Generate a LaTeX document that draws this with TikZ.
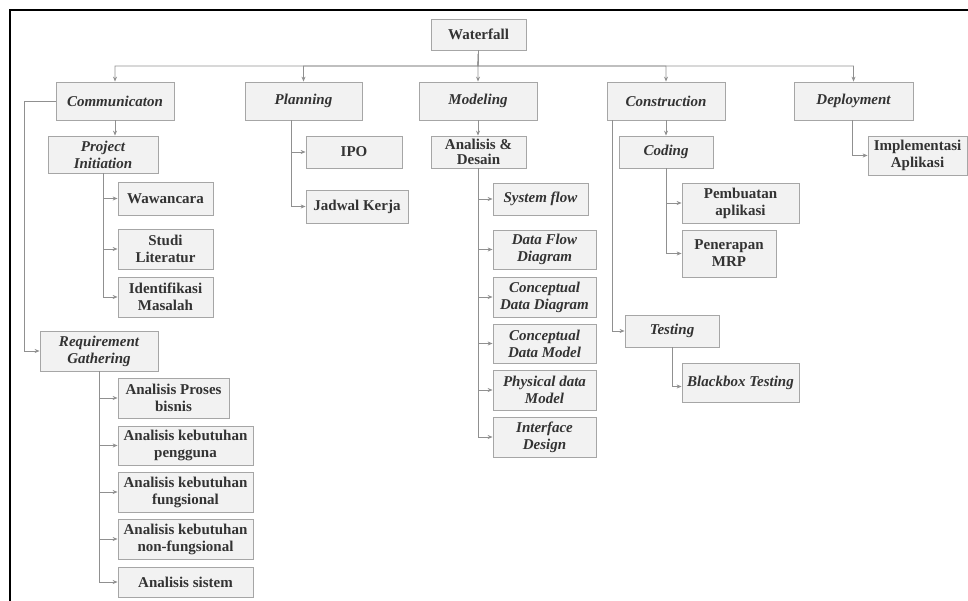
\documentclass[tikz,border=0pt]{standalone}
\usepackage{fontspec}
\setmainfont{Liberation Serif}
\usetikzlibrary{arrows.meta}
\definecolor{boxfill}{HTML}{F2F2F2}
\definecolor{boxline}{HTML}{A6A6A6}
\definecolor{conline}{HTML}{909090}
\definecolor{txt}{HTML}{333333}
\tikzset{
  bx/.style={draw=boxline, fill=boxfill, line width=0.8pt, inner sep=0pt, align=center, text=txt,
             font=\fontsize{15}{17}\selectfont\bfseries},
  bxi/.style={bx, font=\fontsize{15}{17}\selectfont\bfseries\itshape},
  sz/.style 2 args={minimum width=#1pt, minimum height=#2pt},
  conn/.style={draw=conline, line width=0.8pt},
  arr/.style={conn, -{Stealth[length=5pt,width=4pt]}},
}
\begin{document}
\begin{tikzpicture}[x=1pt,y=-1pt]
\useasboundingbox (0,0) rectangle (968,601);
\draw[line width=2pt] (10,601) -- (10,10) -- (968,10);

% top
\node[bx, sz={95}{31}] (wf) at (478.5,34.5) {Waterfall};
\coordinate (b) at (478,66);

% level 1
\node[bxi, sz={118}{38}] (comm) at (115,101) {Communicaton};
\node[bxi, sz={117}{38}] (plan) at (303.5,101) {Planning};
\node[bxi, sz={118}{38}] (model) at (478,101) {Modeling};
\node[bxi, sz={118}{38}] (cons) at (666,101) {Construction};
\node[bxi, sz={119}{38}] (depl) at (853.5,101) {Deployment};

\draw[arr] (wf.south) -- (b) -| (comm.north);
\draw[arr] (wf.south) -- (b) -| (plan.north);
\draw[arr] (wf.south) -- (b) -- (model.north);
\draw[arr] (wf.south) -- (b) -| (cons.north);
\draw[arr] (wf.south) -- (b) -| (depl.north);

% Communication
\node[bxi, sz={110}{37}] (pi) at (103,154.5) {Project\\Initiation};
\node[bx, sz={95}{33}] (waw) at (165.5,198.5) {Wawancara};
\node[bx, sz={95}{40}] (studi) at (165.5,249) {Studi\\Literatur};
\node[bx, sz={95}{40}] (ident) at (165.5,297) {Identifikasi\\Masalah};
\node[bxi, sz={118}{40}] (rg) at (99,351) {Requirement\\Gathering};
\node[bx, sz={111}{40}] (apb) at (173.5,398) {Analisis Proses\\bisnis};
\node[bx, sz={135}{39}] (akp) at (185.5,445.5) {Analisis kebutuhan\\pengguna};
\node[bx, sz={135}{40}] (akf) at (185.5,492) {Analisis kebutuhan\\fungsional};
\node[bx, sz={135}{40}] (aknf) at (185.5,539) {Analisis kebutuhan\\non-fungsional};
\node[bx, sz={135}{30}] (asis) at (185.5,582) {Analisis sistem};

\draw[arr] (comm.south) -- (comm.south |- pi.north);
\draw[arr] (comm.west) -- ++(-31,0) |- (rg.west);
\foreach \c in {waw,studi,ident} \draw[arr] (pi.south) |- (\c.west);
\foreach \c in {apb,akp,akf,aknf,asis} \draw[arr] (rg.south) |- (\c.west);

% Planning
\node[bx, sz={96}{32}] (ipo) at (354,152) {IPO};
\node[bx, sz={102}{33}] (jk) at (357,206.5) {Jadwal Kerja};
\foreach \c in {ipo,jk} \draw[arr] ([xshift=-12.5pt]plan.south) |- (\c.west);

% Modeling
\node[bx, sz={95}{32}, font=\fontsize{15}{15}\selectfont\bfseries] (ad) at (478.5,152) {Analisis \&\\Desain};
\node[bxi, sz={95}{32}] (sf) at (540.5,199) {System flow};
\node[bxi, sz={103}{39}] (dfd) at (544.5,249.5) {Data Flow\\Diagram};
\node[bxi, sz={103}{40}] (cdd) at (544.5,297) {Conceptual\\Data Diagram};
\node[bxi, sz={103}{39}] (cdm) at (544.5,343.5) {Conceptual\\Data Model};
\node[bxi, sz={103}{40}] (pdm) at (544.5,390) {Physical data\\Model};
\node[bxi, sz={103}{40}] (idg) at (544.5,437) {Interface\\Design};
\draw[arr] (model.south) -- (model.south |- ad.north);
\foreach \c in {sf,dfd,cdd,cdm,pdm,idg} \draw[arr] (ad.south -| model.south) |- (\c.west);

% Construction
\node[bxi, sz={94}{32}] (cod) at (666,152) {Coding};
\node[bx, sz={117}{40}] (pa) at (740.5,203) {Pembuatan\\aplikasi};
\node[bx, sz={94}{47}] (pm) at (729,253.5) {Penerapan\\MRP};
\node[bxi, sz={94}{32}] (test) at (672,331) {Testing};
\node[bxi, sz={117}{39}] (bb) at (740.5,382.5) {Blackbox Testing};
\draw[arr] (cons.south) -- (cod.north);
\draw[arr] ([xshift=-54pt]cons.south) |- (test.west);
\foreach \c in {pa,pm} \draw[arr] (cod.south) |- (\c.west);
\draw[arr] (test.south) |- ([yshift=-4pt]bb.west);

% Deployment
\node[bx, sz={99}{39}] (ia) at (917.5,155.5) {Implementasi\\Aplikasi};
\draw[arr] ([xshift=-1.5pt]depl.south) |- (ia.west);
\end{tikzpicture}
\end{document}
